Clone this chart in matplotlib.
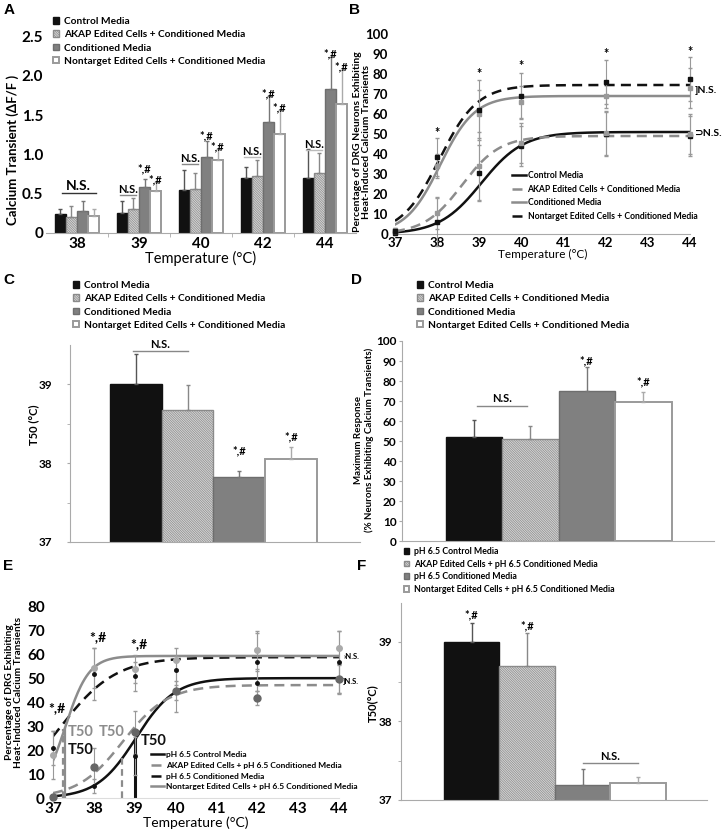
import numpy as np
import matplotlib.pyplot as plt

plt.rcParams['font.family'] = ['Lato', 'DejaVu Sans']
plt.rcParams['font.weight'] = 'bold'
plt.rcParams['hatch.linewidth'] = 0.5

# ---- data ----
groups_a = ['38', '39', '40', '42', '44']
ctrl_a = [0.24, 0.25, 0.55, 0.70, 0.70]
akap_a = [0.20, 0.30, 0.56, 0.73, 0.77]
cond_a = [0.28, 0.59, 0.97, 1.42, 1.83]
nont_a = [0.22, 0.53, 0.925, 1.26, 1.64]
ctrl_a_err = [0.07, 0.16, 0.25, 0.14, 0.37]
akap_a_err = [0.15, 0.15, 0.20, 0.20, 0.25]
cond_a_err = [0.13, 0.10, 0.20, 0.32, 0.41]
nont_a_err = [0.09, 0.12, 0.145, 0.31, 0.44]

temps = [37, 38, 39, 40, 42, 44]
ctrl_b = [0.5, 6, 30.5, 44, 50, 49]
akap_b = [1.5, 10.5, 34, 45.5, 50.5, 50]
cond_b = [2, 34, 60, 66, 69, 73]
nont_b = [1.5, 38.5, 62, 69, 76, 77.5]
ctrl_b_err = [1, 12, 14, 10, 11, 10]
akap_b_err = [1, 8, 17, 10, 11, 10]
cond_b_err = [1, 6, 12, 8, 6, 10]
nont_b_err = [1, 9.5, 15, 11.5, 11, 11]
# sigmoid fit parameters: plateau, T50, slope
fit_top_b = [51, 49, 69, 74.5]
fit_t50_b = [39.05, 38.59, 38.07, 38.05]
fit_slope_b = [0.5, 0.45, 0.41, 0.45]
star_t_b = [38, 39, 40, 42, 44]
star_y_b = [50.5, 80, 84, 90, 91]

t50_c = [39.0, 38.68, 37.82, 38.05]
t50_c_err = [0.38, 0.31, 0.08, 0.15]

max_d = [52, 51, 75, 69.5]
max_d_err = [8.5, 6.5, 12, 5]

ctrl_e = [0.5, 5, 17.5, 45, 48, 49.5]
akap_e = [0.5, 13, 27.5, 45, 42, 50]
cond_e = [21, 52, 51, 53.5, 57, 57]
nont_e = [18, 54.5, 54, 58, 62, 63]
ctrl_e_err = [0.5, 3, 8, 4, 5, 6]
akap_e_err = [0.5, 8, 9, 9, 3, 6]
cond_e_err = [7, 11, 6, 6, 12, 13]
nont_e_err = [10, 8.5, 6, 5, 8, 7]
fit_top_e = [50.2, 47.3, 59, 59.5]
fit_t50_e = [39.03, 38.71, 37.17, 37.3]
fit_slope_e = [0.478, 0.553, 0.685, 0.29]
star_t_e = [37.1, 38.1, 39.1]
star_y_e = [37.5, 67.5, 64.5]

t50_f = [39.0, 38.7, 37.19, 37.22]
t50_f_err = [0.24, 0.42, 0.20, 0.07]

labels_cm = ['Control Media', 'AKAP Edited Cells + Conditioned Media',
             'Conditioned Media', 'Nontarget Edited Cells + Conditioned Media']
labels_ph = ['pH 6.5 Control Media', 'AKAP Edited Cells + pH 6.5 Conditioned Media',
             'pH 6.5 Conditioned Media', 'Nontarget Edited Cells + pH 6.5 Conditioned Media']

# ---- styles ----
bar_face = ['#111111', '#d6d6d6', '#808080', 'white']
bar_edge = ['#111111', '#8a8a8a', '#6e6e6e', '#9a9a9a']
bar_hatch = [None, '\\' * 14, None, None]
err_col = ['#555555', '#888888', '#777777', '#aaaaaa']
DGRAY = '#8c8c8c'

W, H = 724, 832
fig = plt.figure(figsize=(W / 100, H / 100), dpi=100)


def px_axes(l, t, r, b):
    return fig.add_axes([l / W, 1 - b / H, (r - l) / W, (b - t) / H])


def fig_text(x, y, s, **kw):
    fig.text(x / W, 1 - y / H, s, **kw)


def bar_legend(ax, handles, labels, x, y, size):
    ax.legend(handles, labels, loc='upper left', bbox_to_anchor=(x / W, 1 - y / H),
              bbox_transform=fig.transFigure, frameon=False, fontsize=size,
              handlelength=0.6, handleheight=0.6, handletextpad=0.5,
              labelspacing=0.42, borderpad=0, borderaxespad=0)


def draw_bars(ax, xs, vals, errs, width, i):
    b = ax.bar(xs, vals, width, facecolor=bar_face[i], edgecolor=bar_edge[i],
               hatch=bar_hatch[i], linewidth=1.0 if i < 3 else 1.4)
    ax.errorbar(xs, vals, yerr=[np.zeros(len(vals)), errs], fmt='none',
                ecolor=err_col[i], elinewidth=1, capsize=1.5)
    return b


def ns(ax, x0, x1, y_line, y_text, size=8, color='#888888'):
    ax.plot([x0, x1], [y_line, y_line], color=color, lw=1)
    ax.text((x0 + x1) / 2, y_text, 'N.S.', ha='center', va='bottom', fontsize=size)


def style_axes(ax, left=True):
    ax.spines['top'].set_visible(False)
    ax.spines['right'].set_visible(False)
    ax.spines['left'].set_visible(left)
    ax.spines['left'].set_color('#aaaaaa')
    ax.spines['bottom'].set_color('#aaaaaa')
    ax.set_facecolor('none')


def sigmoid(t, top, t50, slope):
    return top / (1 + np.exp((t50 - t) / slope))


# ================= A =================
ax = px_axes(46, 36.7, 356, 233)
x = np.arange(len(groups_a))
w = 0.18
handles = []
for i, (v, e) in enumerate(zip([ctrl_a, akap_a, cond_a, nont_a],
                               [ctrl_a_err, akap_a_err, cond_a_err, nont_a_err])):
    handles.append(draw_bars(ax, x + (i - 1.5) * w, v, e, w, i))
ax.set_xlim(-0.5, 4.5)
ax.set_ylim(0, 2.5)
ax.set_xticks(x)
ax.set_xticklabels(groups_a, fontsize=11)
ax.set_xticks([0.5, 1.5, 2.5, 3.5], minor=True)
ax.tick_params(axis='x', which='minor', length=3, color='#aaaaaa')
ax.tick_params(axis='x', which='major', length=0, pad=3)
ax.set_yticks([0, 0.5, 1, 1.5, 2, 2.5])
ax.set_yticklabels(['0', '0.5', '1.0', '1.5', '2.0', '2.5'], fontsize=11)
ax.tick_params(axis='y', length=0, pad=2)
ax.set_xlabel('Temperature (°C)', fontsize=10.5, labelpad=0)
style_axes(ax, left=False)
ns(ax, -0.25, 0.3, 0.51, 0.52, 10, '#333333')
ns(ax, 1 - 0.3, 1 - 0.05, 0.49, 0.49, 8)
ns(ax, 2 - 0.3, 2 - 0.05, 0.875, 0.875, 8)
ns(ax, 3 - 0.3, 3 - 0.05, 0.97, 0.97, 8, '#bbbbbb')
ns(ax, 4 - 0.3, 4 - 0.05, 1.06, 1.06, 8, '#bbbbbb')
for g, (yg, yw) in zip([1, 2, 3, 4], [(0.82, 0.68), (1.24, 1.1), (1.77, 1.6), (2.28, 2.11)]):
    ax.text(g + 0.5 * w, yg, '*,#', ha='center', va='center', fontsize=8)
    ax.text(g + 1.5 * w, yw, '*,#', ha='center', va='center', fontsize=8)
bar_legend(ax, handles, labels_cm, 53, 17, 7.3)
fig_text(13, 150, 'Calcium Transient (ΔF/F )', rotation=90, ha='center', va='center', fontsize=9.5)

# ================= B =================
ax = px_axes(395, 34, 690, 234)
tt = np.linspace(37, 44, 300)
line_cols = ['#111111', DGRAY, DGRAY, '#111111']
line_ls = ['-', (0, (4, 2.5)), '-', (0, (4, 2.5))]
pt_cols = ['#111111', '#999999', '#999999', '#111111']
lines = []
for i in range(4):
    ln, = ax.plot(tt, sigmoid(tt, fit_top_b[i], fit_t50_b[i], fit_slope_b[i]),
                  color=line_cols[i], ls=line_ls[i], lw=1.8)
    lines.append(ln)
for i, (v, e) in enumerate(zip([ctrl_b, akap_b, cond_b, nont_b],
                               [ctrl_b_err, akap_b_err, cond_b_err, nont_b_err])):
    ax.errorbar(temps, v, yerr=e, fmt='s', ms=2.5, color=pt_cols[i], ecolor='#999999',
                elinewidth=0.8, capsize=1.5, clip_on=False, zorder=3)
for t, y in zip(star_t_b, star_y_b):
    ax.text(t, y, '*', ha='center', va='center', fontsize=9)
ax.text(44.12, 71.8, ']N.S.', ha='left', va='center', fontsize=7.5)
ax.text(44.12, 50, '\u2283N.S.', ha='left', va='center', fontsize=7.5)
ax.set_xlim(37, 44)
ax.set_ylim(0, 100)
ax.set_xticks(range(37, 45))
ax.set_yticks(range(0, 101, 10))
ax.tick_params(labelsize=9.5, length=0, pad=2)
ax.tick_params(axis='y', pad=5)
ax.set_xlabel('Temperature (°C)', fontsize=8.5, labelpad=0)
style_axes(ax, left=False)
ax.legend(lines, labels_cm, loc='upper left', bbox_to_anchor=(512 / W, 1 - 171 / H),
          bbox_transform=fig.transFigure, frameon=False, fontsize=6.2,
          handlelength=1.6, handletextpad=0.2, labelspacing=0.55, borderpad=0, borderaxespad=0)
fig_text(362, 142, 'Percentage of DRG Neurons Exhibiting\nHeat-Induced Calcium Transients',
         rotation=90, ha='center', va='center', fontsize=7.5, linespacing=1.1)

# ================= C =================
ax = px_axes(70, 345, 360, 542)
xc = np.arange(4)
handles = [draw_bars(ax, [xc[i]], [t50_c[i]], [t50_c_err[i]], 1.0, i) for i in range(4)]
ax.set_xlim(-1.27, 4.33)
ax.set_ylim(37, 39.5)
ax.set_xticks([])
ax.set_yticks([37, 38, 39])
ax.set_yticks([37.5, 38.5], minor=True)
ax.tick_params(axis='y', which='both', length=2.5, color='#aaaaaa', labelsize=8.5, pad=10)
style_axes(ax)
ns(ax, -0.05, 1.0, 39.43, 39.44, 8)
ax.text(2, 38.16, '*,#', ha='center', va='center', fontsize=8)
ax.text(3, 38.33, '*,#', ha='center', va='center', fontsize=8)
bar_legend(ax, handles, labels_cm, 73, 281, 7.3)
fig_text(34, 425, 'T50 (°C)', rotation=90, ha='center', va='center', fontsize=8)

# ================= D =================
ax = px_axes(402, 341, 714, 541)
handles = [draw_bars(ax, [xc[i]], [max_d[i]], [max_d_err[i]], 1.0, i) for i in range(4)]
ax.set_xlim(-1.27, 4.25)
ax.set_ylim(0, 100)
ax.set_xticks([])
ax.set_yticks(range(0, 101, 10))
ax.tick_params(axis='y', length=2, color='#aaaaaa', labelsize=8.5, pad=2)
style_axes(ax)
ns(ax, 0.05, 0.95, 67.5, 68.5, 8)
ax.text(2, 90, '*,#', ha='center', va='center', fontsize=8)
ax.text(3, 79.5, '*,#', ha='center', va='center', fontsize=8)
bar_legend(ax, handles, labels_cm, 417, 281, 7.3)
fig_text(364, 440, 'Maximum Response\n(% Neurons Exhibiting Calcium Transients)',
         rotation=90, ha='center', va='center', fontsize=7, linespacing=1.15)

# ================= E =================
ax = px_axes(53, 607, 339, 798)
line_cols_e = ['#111111', DGRAY, '#111111', DGRAY]
line_ls_e = ['-', (0, (4, 2.5)), (0, (4, 2.5)), '-']
lines = []
for i in range(4):
    ln, = ax.plot(tt, sigmoid(tt, fit_top_e[i], fit_t50_e[i], fit_slope_e[i]),
                  color=line_cols_e[i], ls=line_ls_e[i], lw=1.8)
    lines.append(ln)
pt_style_e = [('o', 2.5, '#111111'), ('o', 5, '#666666'), ('o', 2.5, '#111111'), ('o', 4, '#aaaaaa')]
for (m, s, c), v, e in zip(pt_style_e, [ctrl_e, akap_e, cond_e, nont_e],
                           [ctrl_e_err, akap_e_err, cond_e_err, nont_e_err]):
    ax.errorbar(temps, v, yerr=e, fmt=m, ms=s, color=c, ecolor='#999999',
                elinewidth=0.8, capsize=1.5, clip_on=False, zorder=3)
# T50 markers
ax.plot([37.25, 37.25], [0, 29], color=DGRAY, ls=(0, (3, 2)), lw=1.6)
ax.plot([37.3, 37.3], [0, 29], color=DGRAY, lw=1.6)
ax.plot([38.7, 38.7], [0, 18], color=DGRAY, ls=(0, (3, 2)), lw=1.6)
ax.plot([39.0, 39.0], [0, 25], color='#111111', lw=2.2)
ax.text(37.35, 27.5, 'T50', color=DGRAY, fontsize=10.5, va='center')
ax.text(37.35, 20, 'T50', color='#111111', fontsize=10.5, va='center')
ax.text(38.13, 27.5, 'T50', color=DGRAY, fontsize=10.5, va='center')
ax.text(39.15, 24, 'T50', color='#111111', fontsize=10.5, va='center')
for t, y in zip(star_t_e, star_y_e):
    ax.text(t, y, '*,#', ha='center', va='center', fontsize=10)
ax.text(44.1, 59.3, '\u203aN.S.', ha='left', va='center', fontsize=5.5)
ax.text(44.1, 49, ']N.S.', ha='left', va='center', fontsize=5.5)
ax.set_xlim(37, 44)
ax.set_ylim(0, 80)
ax.set_xticks(range(37, 45))
ax.set_yticks(range(0, 81, 10))
ax.tick_params(labelsize=11, length=0, pad=3)
ax.tick_params(axis='y', pad=6)
ax.set_xlabel('Temperature (°C)', fontsize=10, labelpad=0)
style_axes(ax, left=False)
ax.spines['bottom'].set_color('#dddddd')
leg = ax.legend(lines, labels_ph, loc='upper left', bbox_to_anchor=(151 / W, 1 - 751 / H),
                bbox_transform=fig.transFigure, frameon=False, fontsize=6,
                handlelength=1.5, handletextpad=0.3, labelspacing=0.45, borderpad=0, borderaxespad=0)
leg.set_zorder(0)
fig_text(14, 692, 'Percentage of DRG Exhibiting\nHeat-Induced Calcium Transients',
         rotation=90, ha='center', va='center', fontsize=7.3, linespacing=1.1)

# ================= F =================
ax = px_axes(401, 602.5, 707, 800)
ax.set_facecolor('white')
handles = [draw_bars(ax, [xc[i]], [t50_f[i]], [t50_f_err[i]], 1.0, i) for i in range(4)]
ax.set_xlim(-1.27, 4.24)
ax.set_ylim(37, 39.5)
ax.set_xticks([])
ax.set_yticks([37, 38, 39])
ax.set_yticks([37.5, 38.5], minor=True)
ax.tick_params(axis='y', which='both', length=2.5, color='#aaaaaa', labelsize=8.5, pad=4)
style_axes(ax)
ns(ax, 2.0, 3.0, 37.47, 37.48, 8)
ax.text(0, 39.34, '*,#', ha='center', va='center', fontsize=8)
ax.text(1, 39.21, '*,#', ha='center', va='center', fontsize=8)
bar_legend(ax, handles, labels_ph, 404, 547, 6.3)
fig_text(373, 703, 'T50(°C)', rotation=90, ha='center', va='center', fontsize=8)

# panel letters
for lab, (px, py) in zip('ABCDEF', [(9, 10), (354, 10), (9, 280), (356, 280), (8, 566), (362, 566)]):
    fig_text(px, py, lab, fontsize=11, family='Liberation Sans', fontweight='bold',
             ha='center', va='center')

fig.savefig('out.png', dpi=100)
